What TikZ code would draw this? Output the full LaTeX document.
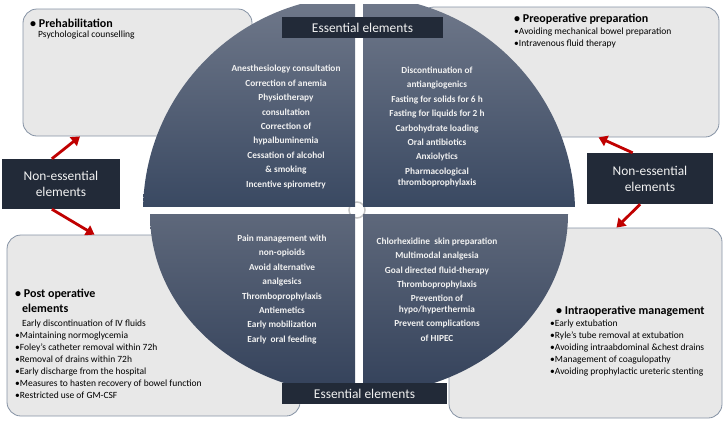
\documentclass[tikz,border=0pt]{standalone}
\usepackage{fontspec}
\setmainfont{Carlito}
\usetikzlibrary{arrows.meta}

\definecolor{boxfill}{HTML}{E8E8E8}
\definecolor{boxline}{HTML}{8592A4}
\definecolor{navy}{HTML}{222A38}
\definecolor{qtop}{HTML}{6E7789}
\definecolor{qbot}{HTML}{3A4962}
\definecolor{qtopb}{HTML}{5E687B}
\definecolor{qbotb}{HTML}{33415A}
\definecolor{arrowred}{HTML}{C00000}
\definecolor{qtext}{HTML}{F2F2F2}
\definecolor{ringgrey}{HTML}{C4C4C4}

\tikzset{
  phasebox/.style={fill=boxfill, draw=boxline, line width=0.8pt, rounded corners=14pt, inner sep=0pt},
  banner/.style={fill=navy, text=qtext, inner sep=0pt, align=center, font=\fontsize{13.4}{16}\selectfont},
  quadtext/.style={text=qtext, align=center, inner sep=0pt, font=\fontsize{9.3}{14.4}\selectfont\bfseries},
  boxhead/.style={anchor=north west, inner sep=0pt, align=left, font=\fontsize{12}{15}\selectfont\bfseries},
  boxitems/.style={anchor=north west, inner sep=0pt, align=left, font=\fontsize{9.5}{12}\selectfont},
  redarrow/.style={draw=arrowred, line width=2.8pt, -{Triangle[length=8.5pt,width=11pt]}}
}

\begin{document}
\begin{tikzpicture}[x=1pt,y=1pt]
  \useasboundingbox (0,0) rectangle (727,-421);
  % The four phase boxes behind the circle.
  \node[phasebox, minimum width=229pt, minimum height=127pt] (prehab) at (137.5,-72.5) {};
  \node[phasebox, minimum width=299pt, minimum height=130pt] (preop) at (569.5,-72) {};
  \node[phasebox, minimum width=293pt, minimum height=181pt] (post) at (153.5,-325.5) {};
  \node[phasebox, minimum width=273pt, minimum height=190pt] (intra) at (585.5,-323) {};
  % The ring at the centre.
  \draw[ringgrey, line width=1.5pt] (357,-210) circle (8);
  % Upper half of the circle.
  \begin{scope}
    \clip (359,-212) circle (216);
    \shade[top color=qtop, bottom color=qbot] (140,-4) rectangle (355,-206);
    \shade[top color=qtop, bottom color=qbot] (363,-4) rectangle (580,-206);
  \end{scope}
  % Lower half of the circle.
  \begin{scope}
    \clip (359,-214) ellipse (209 and 181);
    \shade[top color=qtopb, bottom color=qbotb] (148,-214) rectangle (355,-396);
    \shade[top color=qtopb, bottom color=qbotb] (363,-214) rectangle (570,-396);
  \end{scope}
  % Essential elements in the quarters.
  \node[quadtext] (prehabess) at (286,-127) {Anesthesiology consultation\\Correction of anemia\\Physiotherapy\\consultation\\Correction of\\hypalbuminemia\\Cessation of alcohol\\\& smoking\\Incentive spirometry};
  \node[quadtext] (preopess) at (437,-127) {Discontinuation of\\antiangiogenics\\Fasting for solids for 6 h\\Fasting for liquids for 2 h\\Carbohydrate loading\\Oral antibiotics\\Anxiolytics\\Pharmacological\\[-3pt]thromboprophylaxis};
  \node[quadtext] (postess) at (282,-289.5) {Pain management with\\non-opioids\\Avoid alternative\\analgesics\\Thromboprophylaxis\\Antiemetics\\Early mobilization\\Early\ \ oral feeding};
  \node[quadtext] (intraess) at (437,-289.5) {Chlorhexidine\ \ skin preparation\\Multimodal analgesia\\Goal directed fluid-therapy\\Thromboprophylaxis\\Prevention of\\[-4pt]hypo/hyperthermia\\Prevent complications\\of HIPEC};
  % The two banners.
  \node[banner, minimum width=161pt, minimum height=21pt] (esstop) at (362.5,-27.5) {Essential elements};
  \node[banner, minimum width=165pt, minimum height=21pt] (essbot) at (364.5,-393.5) {Essential elements};
  % Texts of the boxes.
  \node[boxhead] (prehabhead) at (30,-18.4) {\textbullet\ Prehabilitation};
  \node[boxitems] (prehabitems) at (38,-31) {Psychological counselling};
  \node[boxhead] (preophead) at (514,-13.4) {\textbullet\ Preoperative preparation};
  \node[boxitems] (preopitems) at (514,-28) {\textbullet Avoiding mechanical bowel preparation\\\textbullet Intravenous fluid therapy};
  \node[boxhead] (posthead) at (15,-288.4) {\textbullet\ Post operative\\\hspace*{7pt}elements};
  \node[boxitems] (postitems) at (15,-319.5) {\hspace*{7pt}Early discontinuation of IV fluids\\\textbullet Maintaining normoglycemia\\\textbullet Foley’s catheter removal within 72h\\\textbullet Removal of drains within 72h\\\textbullet Early discharge from the hospital\\\textbullet Measures to hasten recovery of bowel function\\\textbullet Restricted use of GM-CSF};
  \node[boxhead] (intrahead) at (556,-305.4) {\textbullet\ Intraoperative management};
  \node[boxitems] (intraitems) at (550,-320) {\textbullet Early extubation\\\textbullet Ryle’s tube removal at extubation\\\textbullet Avoiding intraabdominal \&chest drains\\\textbullet Management of coagulopathy\\\textbullet Avoiding prophylactic ureteric stenting};
  % Non-essential elements and their arrows.
  \node[banner, minimum width=118pt, minimum height=50pt] (nel) at (61,-184) {Non-essential\\elements};
  \node[banner, minimum width=126pt, minimum height=51pt] (ner) at (650,-178.5) {Non-essential\\elements};
  \draw[redarrow] (nel.110) -- (prehab.228);
  \draw[redarrow] (nel.-110) -- (post.123);
  \draw[redarrow] (ner.124) -- (preop.-66);
  \draw[redarrow] (ner.-111) -- (intra.72);
\end{tikzpicture}
\end{document}
